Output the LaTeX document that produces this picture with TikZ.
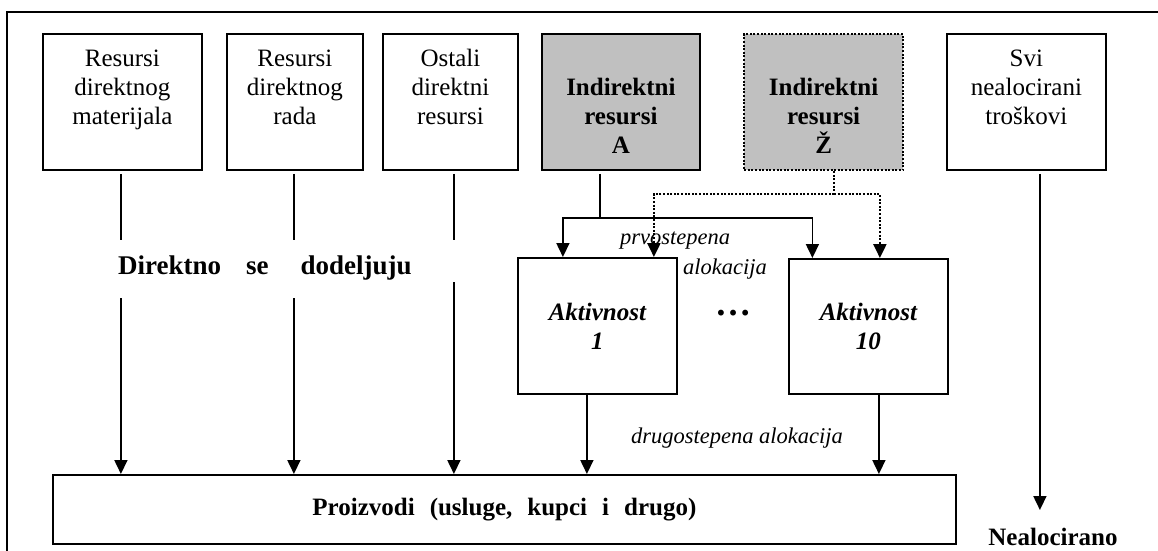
\documentclass[tikz,border=0pt]{standalone}
\usepackage{fontspec}
\setmainfont{Liberation Serif}
\usetikzlibrary{arrows.meta,calc}
\begin{document}
\begin{tikzpicture}[x=1pt,y=-1pt,
  every node/.style={font=\fontsize{25}{29}\selectfont,inner sep=0pt},
  box/.style={draw,line width=1.8pt,minimum width=159pt,minimum height=136pt,anchor=north west},
  grey/.style={fill=boxgrey},
  dotline/.style={line width=2.2pt,dash pattern=on 2pt off 1.6pt},
  lbl/.style={align=center,anchor=north},
  note/.style={font=\fontsize{22.5}{26}\selectfont\itshape,anchor=base},
  link/.style={line width=1.7pt},
  arr/.style={link,-{Triangle[width=13pt,length=14pt]}}
]
\definecolor{boxgrey}{HTML}{C0C0C0}
\useasboundingbox (0,0) rectangle (1158,550);

% outer frame (top and left edge)
\draw[line width=2.8pt,line join=miter] (7,560) -- (7,12) -- (1170,12);

% resource boxes
\node[box] (b1) at (42,33) {};
\node[box,minimum width=136pt] (b2) at (226,33) {};
\node[box,minimum width=135pt] (b3) at (382,33) {};
\node[box,grey,minimum width=158pt] (bA) at (541,33) {};
\node[box,grey,dotline] (bZ) at (743,33) {};
\node[box] (bS) at (946,33) {};

\node[lbl] (t1) at ($(b1.north)+(0,13)$) {\strut Resursi\\direktnog\\materijala};
\node[lbl] (t2) at ($(b2.north)+(0,13)$) {\strut Resursi\\direktnog\\rada};
\node[lbl] (t3) at ($(b3.north)+(0,13)$) {\strut Ostali\\direktni\\resursi};
\node[lbl,font=\fontsize{25}{29}\selectfont\bfseries] (tA) at ($(bA.north)+(0,42)$) {\strut Indirektni\\resursi\\A};
\node[lbl,font=\fontsize{25}{29}\selectfont\bfseries] (tZ) at ($(bZ.north)+(0,42)$) {\strut Indirektni\\resursi\\Ž};
\node[lbl] (tS) at ($(bS.north)+(0,13)$) {\strut Svi\\nealocirani\\troškovi};

% activities and cost objects
\node[box,align=center,font=\fontsize{25}{29}\selectfont\bfseries\itshape] (act1) at (517,257) {Aktivnost\\1};
\node[box,align=center,minimum height=135pt,font=\fontsize{25}{29}\selectfont\bfseries\itshape] (act10) at (788,258) {Aktivnost\\10};
\node[box,minimum width=903pt,minimum height=69pt,font=\fontsize{25}{29}\selectfont\bfseries] (prod) at (52,474)
  {Proizvodi\hspace{15pt}(usluge,\hspace{15pt}kupci\hspace{15pt}i\hspace{15pt}drugo)};

\node[anchor=base,font=\fontsize{36}{36}\selectfont\bfseries] (dots) at (733,315) {…};

% direct assignment
\node[anchor=base west,font=\fontsize{27}{31}\selectfont\bfseries] (direct) at (118,274)
  {Direktno\hspace{25pt}se\hspace{32pt}dodeljuju};
\foreach \b/\dx/\resume in {b1/-1.5/298,b2/-1/298,b3/3.5/282}{
  \draw[link] ($(\b.south)+(\dx,3)$) coordinate (s) -- (s |- 0,240);
  \draw[arr] (s |- 0,\resume) -- (s |- prod.north);
}

% first-stage allocation
\draw[link] ($(bA.south)+(-21,3)$) coordinate (a0) -- (a0 |- 0,218) coordinate (aj);
\draw[arr] (aj) -| ($(act1.north)+(-34.5,0)$);
\draw[arr] (aj) -| ($(act10.north)+(-56,0)$);
\draw[dotline] ($(bZ.south)+(10.5,0)$) coordinate (z0) -- (z0 |- 0,194) coordinate (zj);
\draw[dotline,-{Triangle[width=13pt,length=14pt]}] (zj) -| ($(act1.north)+(56.5,0)$);
\draw[dotline,-{Triangle[width=13pt,length=14pt]}] (zj) -| ($(act10.north)+(11.5,0)$);
\node[note] (prv) at (675,244) {prvostepena};
\node[note] (alok) at (725,274) {alokacija};

% second-stage allocation
\draw[arr] ($(act1.south)+(-10.5,0)$) coordinate (c1) -- (c1 |- prod.north);
\draw[arr] ($(act10.south)+(10.5,0)$) coordinate (c2) -- (c2 |- prod.north);
\node[note] (drug) at (737,443) {drugostepena alokacija};

% unallocated costs
\node[anchor=base,font=\fontsize{25}{29}\selectfont\bfseries] (neal) at (1053,545) {Nealocirano};
\draw[arr] ($(bS.south)+(13.5,3)$) coordinate (n0) -- (n0 |- 0,510);
\end{tikzpicture}
\end{document}
